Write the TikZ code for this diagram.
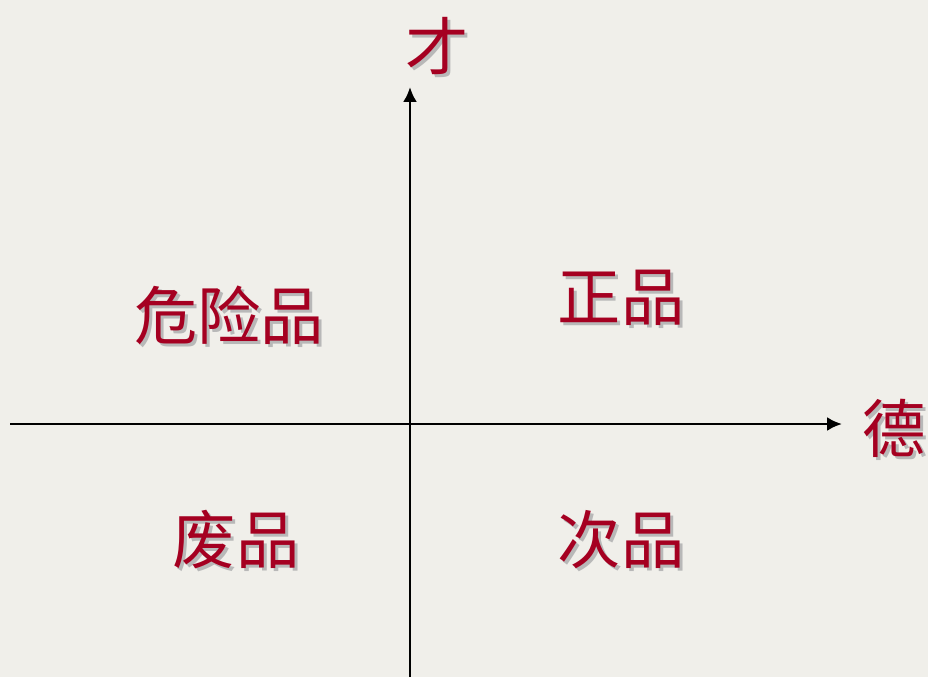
\documentclass[tikz,border=0pt]{standalone}
\usepackage{fontspec}
\newfontfamily\cjk{Noto Sans CJK SC}
\usetikzlibrary{arrows.meta}
\definecolor{paper}{HTML}{F0EFEA}
\definecolor{darkred}{HTML}{A50021}
\tikzset{
    word/.style={text=darkred,font=\cjk\fontsize{36}{36}\selectfont,inner sep=0pt},
    wordshadow/.style={text=black!28,font=\cjk\fontsize{36}{36}\selectfont,inner sep=0pt},
    axis/.style={line width=1.6pt,-{Latex[length=8.5pt,width=8pt]}}
}
\begin{document}
\begin{tikzpicture}[x=0.02cm,y=-0.02cm]
        \fill[paper] (0,0) rectangle (928,677);
        \useasboundingbox (0,0) rectangle (928,677);
        % axes
        \coordinate (xl) at (10,424);
        \coordinate (xr) at (842,424);
        \coordinate (yb) at (410,677);
        \coordinate (yt) at (410,87);
        \draw[axis] (xl) -- (xr);
        \draw[axis] (yb) -- (yt);
        % labels with shadow
        \foreach \name/\x/\y/\txt in {cai/437/46/才, de/894/428/德, danger/229/315/危险品, good/621/298/正品, waste/236/540/废品, second/621/540/次品}{
            \node[wordshadow] (\name-s) at (\x+3,\y+3) {\txt};
            \node[word] (\name) at (\x,\y) {\txt};
        }
    \end{tikzpicture}
\end{document}
